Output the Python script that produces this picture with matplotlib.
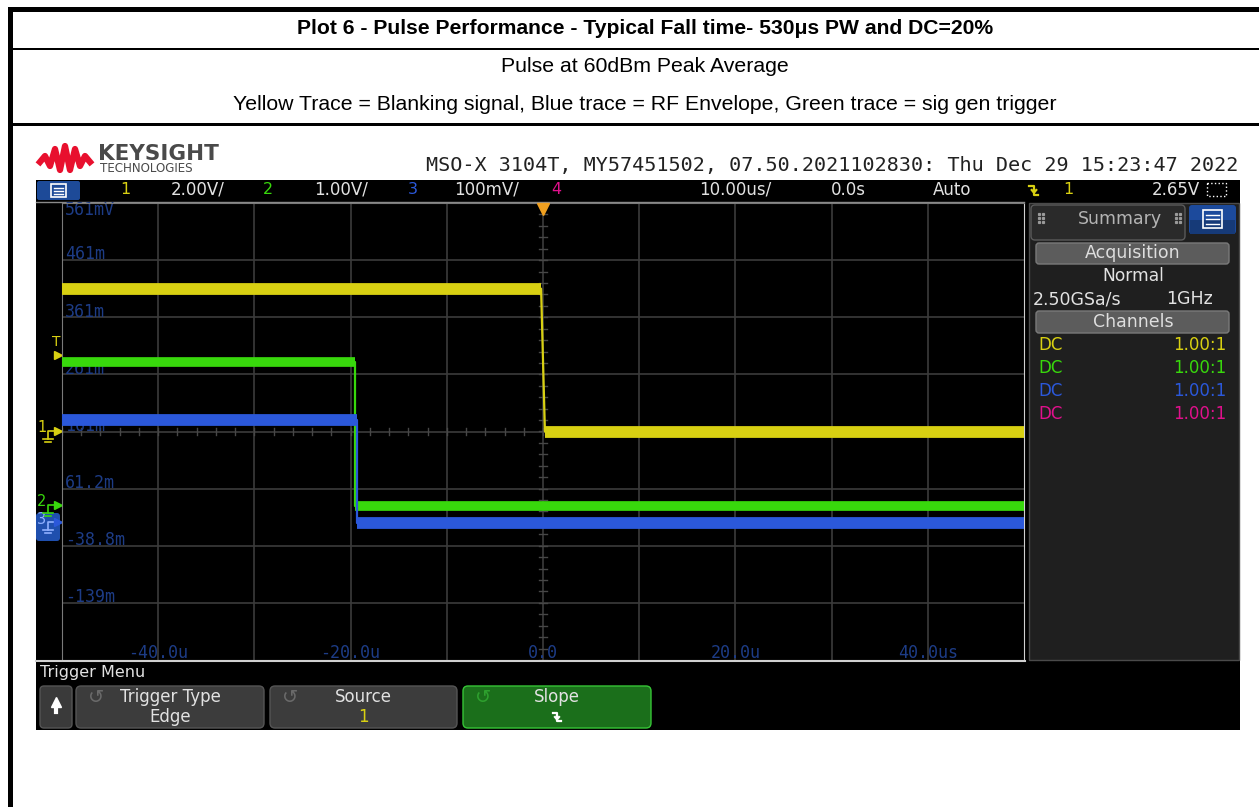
import numpy as np
import matplotlib
matplotlib.use('Agg')
from matplotlib import pyplot as plt
from matplotlib.patches import Rectangle, FancyBboxPatch

W, H = 1259, 807

# scope settings
TIME_PER_DIV = 10.0   # us/div
CH1_SCALE = 2.0       # V/div
CH2_SCALE = 1.0       # V/div
CH3_SCALE = 100.0     # mV/div
CH1_POS = 0.0         # ground marker, divs from centre
CH2_POS = -1.30
CH3_POS = -1.61
TRIG_LEVEL = 2.65     # V on ch1

# traces, time in us
yellow_t = [-50.0, -0.2, 0.2, 50.0]
yellow_v = [5.0, 5.0, 0.0, 0.0]
green_t = [-50.0, -19.5, -19.5, 50.0]
green_v = [2.52, 2.52, 0.0, 0.0]
blue_t = [-50.0, -19.3, -19.3, 50.0]
blue_v = [182.0, 182.0, 0.0, 0.0]

y_labels = ['561mV', '461m', '361m', '261m', '161m', '61.2m', '-38.8m', '-139m']
x_labels = ['-40.0u', '-20.0u', '0.0', '20.0u', '40.0us']
x_label_pos = [-40, -20, 0, 20, 40]

YEL = '#d8d012'
GRN = '#38d80c'
BLU = '#2b58da'
MAG = '#e0108c'
LBL = '#1d3c86'
UI = '#e2e2e2'
SANS = 'DejaVu Sans'
MONO = 'DejaVu Sans Mono'

fig = plt.figure(figsize=(W / 100, H / 100), dpi=100)
bg = fig.add_axes([0, 0, 1, 1])
bg.set_xlim(0, W)
bg.set_ylim(H, 0)
bg.axis('off')


def rect(x0, y0, x1, y1, fc, ec='none', lw=0, z=1):
	bg.add_patch(Rectangle((x0, y0), x1 - x0, y1 - y0, fc=fc, ec=ec, lw=lw, zorder=z))


def rbox(x0, y0, x1, y1, fc, ec='none', lw=1, r=5, z=2):
	bg.add_patch(FancyBboxPatch((x0 + r, y0 + r), x1 - x0 - 2 * r, y1 - y0 - 2 * r,
		boxstyle='round,pad=%d' % r, fc=fc, ec=ec, lw=lw, zorder=z))


def txt(x, y, s, size=11.5, color=UI, ha='center', family=SANS, weight='normal'):
	bg.text(x, y, s, fontsize=size, color=color, ha=ha, va='center',
		family=family, weight=weight, zorder=5)


def slope_icon(x, y, s, color):
	# falling edge symbol
	bg.plot([x - s, x, x, x + s], [y - s, y - s, y + s, y + s], color=color, lw=1.6, zorder=6)
	bg.plot([x - s * 0.5, x, x + s * 0.5], [y, y + s * 0.6, y], color=color, lw=1.6, zorder=6)


# ---- document table ----
rect(8, 7, W, 12, 'black')
rect(8, 7, 13, H, 'black')
rect(8, 47.5, W, 50, 'black')
rect(8, 123, W, 126, 'black')
txt(645, 29, 'Plot 6 - Pulse Performance - Typical Fall time- 530\u03bcs PW and DC=20%',
	size=15.2, color='black', family='Liberation Sans', weight='bold')
txt(645, 67, 'Pulse at 60dBm Peak Average', size=15.3, color='black', family='Liberation Sans')
txt(645, 105, 'Yellow Trace = Blanking signal, Blue trace = RF Envelope, Green trace = sig gen trigger',
	size=15.3, color='black', family='Liberation Sans')

# ---- scope header ----
logo_x = [40, 45, 50, 55, 60, 65, 70, 75, 80, 85, 90]
logo_y = [162, 156, 166, 149, 170, 146, 170, 149, 166, 156, 162]
bg.plot(logo_x, logo_y, color='#e8102e', lw=4.5, solid_joinstyle='round', zorder=3)
txt(98, 154, 'KEYSIGHT', size=15.5, color='#4a4a4a', ha='left', weight='bold')
txt(100, 169, 'TECHNOLOGIES', size=8.6, color='#4a4a4a', ha='left')
txt(1238, 166, 'MSO-X 3104T, MY57451502, 07.50.2021102830: Thu Dec 29 15:23:47 2022',
	size=14.5, color='#222222', ha='right', family=MONO)

# ---- black screen ----
rect(36, 180, 1240, 730, 'black')
bg.plot([36, 1024], [201.5, 201.5], color='#8a8a8a', lw=1, zorder=3)

# channel bar
rbox(37, 181, 80, 200, '#1d4a98', r=2)
rect(51, 184, 66, 197, 'none', ec='white', lw=1.2, z=4)
for yy in [187.5, 190.5, 193.5]:
	bg.plot([54, 63], [yy, yy], color='white', lw=1, zorder=4)
txt(125, 190, '1', color=YEL)
txt(198, 190, '2.00V/', size=12)
txt(268, 190, '2', color=GRN)
txt(341, 190, '1.00V/', size=12)
txt(413, 190, '3', color=BLU)
txt(487, 190, '100mV/', size=12)
txt(556, 190, '4', color=MAG)
txt(735, 190, '10.00us/', size=12)
txt(848, 190, '0.0s', size=12)
txt(952, 190, 'Auto', size=12)
slope_icon(1034, 190, 4.5, YEL)
txt(1068, 190, '1', color=YEL)
txt(1176, 190, '2.65V', size=12)
rect(1207, 183, 1226, 196, 'none', ec='white', lw=1, z=4)
bg.patches[-1].set_linestyle(':')

# right panel
rect(1029, 203, 1239, 660, '#1f1f1f', ec='#4a4a4a', lw=1, z=2)
rbox(1031, 205, 1185, 240, '#2a2a2a', ec='#5a5a5a', r=4, z=3)
for dx in [1039, 1176]:
	bg.plot([dx, dx, dx, dx + 4, dx + 4, dx + 4], [214, 218, 222, 214, 218, 222], 's',
		color='#9a9a9a', ms=1.3, zorder=6)
txt(1120, 219, 'Summary', size=12.5, color='#b4b4b4')
rbox(1189, 205, 1236, 234, '#1c4a9c', r=3, z=3)
rect(1190, 220, 1235, 234, '#163a78', z=3)
rect(1203, 210, 1222, 228, 'none', ec='white', lw=1.2, z=4)
for yy in [214.5, 219, 223.5]:
	bg.plot([1206, 1219], [yy, yy], color='white', lw=1, zorder=4)
rbox(1036, 243, 1229, 264, '#5c5c5c', ec='#7a7a7a', r=3, z=3)
txt(1133, 253, 'Acquisition', size=12.5, color='#dedede')
txt(1133, 276, 'Normal', size=12.3)
txt(1033, 299, '2.50GSa/s', size=12.5, ha='left')
txt(1190, 299, '1GHz', size=12.5)
rbox(1036, 311, 1229, 333, '#5c5c5c', ec='#7a7a7a', r=3, z=3)
txt(1133, 322, 'Channels', size=12.5, color='#dedede')
for yy, cc in zip([345, 368, 391, 414], [YEL, GRN, BLU, MAG]):
	txt(1038, yy, 'DC', size=12, color=cc, ha='left')
	txt(1226, yy, '1.00:1', size=12, color=cc, ha='right')

# bottom soft-key menu
bg.plot([36, 1025], [661, 661], color='#d0d0d0', lw=1.5, zorder=3)
txt(40, 673, 'Trigger Menu', size=11.5, ha='left')
rbox(40, 686, 72, 728, '#3a3a3a', ec='#555555', r=4)
bg.plot([56, 56], [704, 712], color='white', lw=3, zorder=6)
bg.plot([56], [702], '^', color='white', ms=7, zorder=6)
for x0, x1, top, bot, bc in [(76, 264, 'Trigger Type', 'Edge', UI), (270, 457, 'Source', '1', YEL)]:
	rbox(x0, 686, x1, 728, '#3c3c3c', ec='#555555', r=5)
	txt((x0 + x1) / 2, 697, top, size=12)
	txt((x0 + x1) / 2, 717, bot, size=12, color=bc)
	txt(x0 + 20, 697, '\u21ba', size=14, color='#6a6a6a')
rbox(463, 686, 651, 728, '#1b6f1b', ec='#36c436', r=5)
txt(557, 697, 'Slope', size=12)
txt(483, 697, '\u21ba', size=14, color='#2ea02e')
slope_icon(557, 717, 4, 'white')

# left channel markers
txt(56, 342, 'T', size=10, color=YEL)
bg.plot([58], [355], '>', color=YEL, ms=6, zorder=6)
for yy, cc, lab in [(431, YEL, '1'), (505, GRN, '2')]:
	txt(42, yy - 3, lab, size=10.5, color=cc)
	bg.plot([48, 48, 55], [yy + 8, yy, yy], color=cc, lw=1.2, zorder=6)
	bg.plot([58], [yy], '>', color=cc, ms=6, zorder=6)
	bg.plot([43, 53], [yy + 8, yy + 8], color=cc, lw=1.2, zorder=6)
	bg.plot([45, 51], [yy + 11, yy + 11], color=cc, lw=1.2, zorder=6)
rbox(36, 513, 60, 541, '#1f4fae', r=3, z=4)
txt(42, 519, '3', size=10.5, color='#8fb0ff')
bg.plot([48, 48, 55], [530, 522, 522], color='#8fb0ff', lw=1.2, zorder=6)
bg.plot([43, 53], [530, 530], color='#8fb0ff', lw=1.2, zorder=6)
bg.plot([45, 51], [533, 533], color='#8fb0ff', lw=1.2, zorder=6)
bg.plot([58], [522], '>', color=BLU, ms=6, zorder=6)

# ---- graticule ----
ax = fig.add_axes([62 / W, 1 - 660 / H, 962 / W, 457 / H])
ax.set_facecolor('black')
ax.set_xlim(-5 * TIME_PER_DIV, 5 * TIME_PER_DIV)
ax.set_ylim(-4, 4)
ax.set_xticks([])
ax.set_yticks([])
for s in ['left', 'top']:
	ax.spines[s].set_color('#7a7a7a')
for s in ['right', 'bottom']:
	ax.spines[s].set_color('#d0d0d0')
for xv in np.arange(-4, 5) * TIME_PER_DIV:
	ax.axvline(xv, color='#3b3b3b', lw=1.2, zorder=1)
for yv in np.arange(-3, 4):
	ax.axhline(yv, color='#3b3b3b', lw=1.2, zorder=1)
# minor ticks on centre lines
for xv in np.arange(-50, 50.1, TIME_PER_DIV / 5):
	ax.plot([xv, xv], [-0.07, 0.07], color='#474747', lw=1, zorder=1)
for yv in np.arange(-4, 4.01, 0.2):
	ax.plot([-0.4, 0.4], [yv, yv], color='#474747', lw=1, zorder=1)

for k, lab in enumerate(y_labels):
	yy = 4 - 0.12 if k == 0 else 4 - k + 0.1
	ax.text(-49.7, yy, lab, fontsize=12, color=LBL, family=MONO, ha='left', va='center', zorder=2)
for xp, lab in zip(x_label_pos, x_labels):
	ax.text(xp, -3.87, lab, fontsize=12, color=LBL, family=MONO, ha='center', va='center', zorder=2)


def trace(t, v, scale, pos, color, lw):
	d = np.array(v) / scale + pos
	ax.plot(t, d, color=color, lw=1.6, zorder=3)
	ax.plot(t[:2], d[:2], color=color, lw=lw, solid_capstyle='butt', zorder=3)
	ax.plot(t[2:], d[2:], color=color, lw=lw, solid_capstyle='butt', zorder=3)


trace(yellow_t, yellow_v, CH1_SCALE, CH1_POS, YEL, 8.5)
trace(green_t, green_v, CH2_SCALE, CH2_POS, GRN, 7.0)
trace(blue_t, blue_v, CH3_SCALE, CH3_POS, BLU, 8.5)

# trigger position marker
ax.plot([0], [3.9], 'v', color='#f0a020', ms=8, clip_on=False, zorder=5)

fig.savefig('out.png', dpi=100, facecolor='white')
